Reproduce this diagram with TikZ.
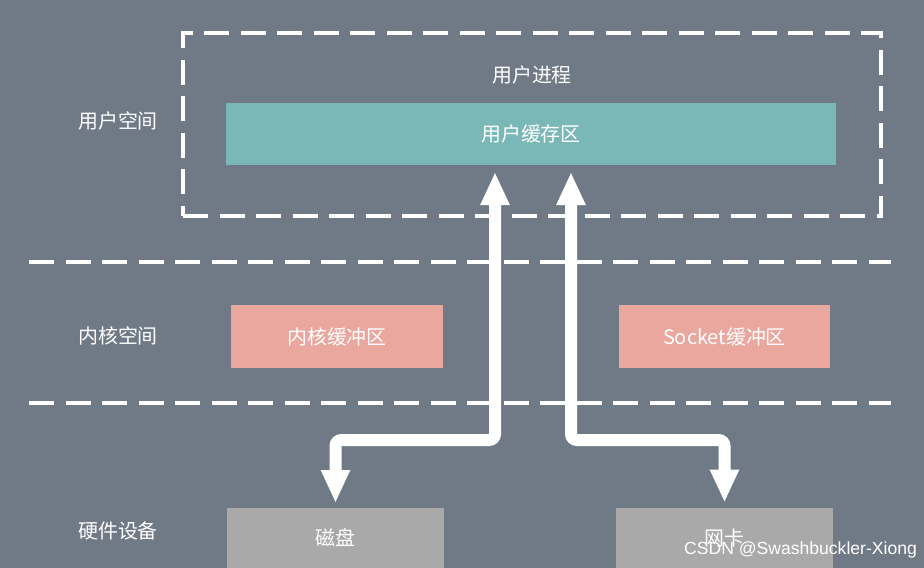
\documentclass[tikz,border=0pt]{standalone}
\usepackage{fontspec}
\setmainfont{Noto Sans CJK SC}
\newfontfamily\wmfont{Liberation Sans}
\usetikzlibrary{arrows.meta}
\definecolor{bgslate}{HTML}{707A86}
\definecolor{userbuf}{HTML}{7AB8B8}
\definecolor{kernbuf}{HTML}{E9A79D}
\definecolor{hwbox}{HTML}{A9A9AA}
\tikzset{
  >={Triangle[length=9.9mm,width=8.1mm]},
  box/.style={inner sep=0pt, outer sep=0pt, text=white, font=\fontsize{17}{20}\selectfont},
  buffer/.style={box, minimum height=1.89cm},
  device/.style={box, fill=hwbox, minimum width=6.51cm, minimum height=1.8cm},
  zone/.style={text=white, font=\fontsize{17}{20}\selectfont},
  sepline/.style={draw=white, line width=1.35mm, dash pattern=on 7.5mm off 3.45mm},
  flow/.style={<->, draw=white, line width=3.6mm, rounded corners=1.8mm}
}
\begin{document}
\begin{tikzpicture}[x=0.3mm,y=-0.3mm]

% Background
\fill[bgslate] (0,0) rectangle (924,568);
\useasboundingbox (0,0) rectangle (924,568);

% User space
\node[sepline, inner sep=0pt, minimum width=20.94cm, minimum height=5.49cm] (proc) at (532,124.5) {};
\node[zone] (proctitle) at (532,75) {用户进程};
\node[buffer, fill=userbuf, minimum width=18.3cm, minimum height=1.86cm] (ubuf) at (531,134) {用户缓存区};
\node[zone] (userzone) at (118,121) {用户空间};

% Kernel space
\draw[sepline] (29,262) -- (891,262);
\draw[sepline] (29,403) -- (891,403);
\node[zone] (kernzone) at (118,336) {内核空间};
\node[buffer, fill=kernbuf, minimum width=6.36cm] (kbuf) at (337,336.5) {内核缓冲区};
\node[buffer, fill=kernbuf, minimum width=6.33cm] (sbuf) at (724.5,336.5) {Socket缓冲区};

% Hardware
\node[zone] (hwzone) at (118,531) {硬件设备};
\node[device] (disk) at (335.5,538) {磁盘};
\node[device] (nic) at (724.5,537.5) {网卡};

% Data paths
\coordinate (lbend) at (495,440);
\coordinate (rbend) at (571,440);
\draw[flow, shorten <=2.1mm, shorten >=1.5mm] (ubuf.south -| lbend) -- (lbend) -| (disk.north);
\draw[flow, shorten <=2.1mm, shorten >=1.5mm] (ubuf.south -| rbend) -- (rbend) -| (nic.north);

% Watermark
\node[anchor=east, text=white, font=\wmfont\fontsize{15}{18}\selectfont] (mark) at (921,550) {CSDN @Swashbuckler-Xiong};

\end{tikzpicture}
\end{document}
